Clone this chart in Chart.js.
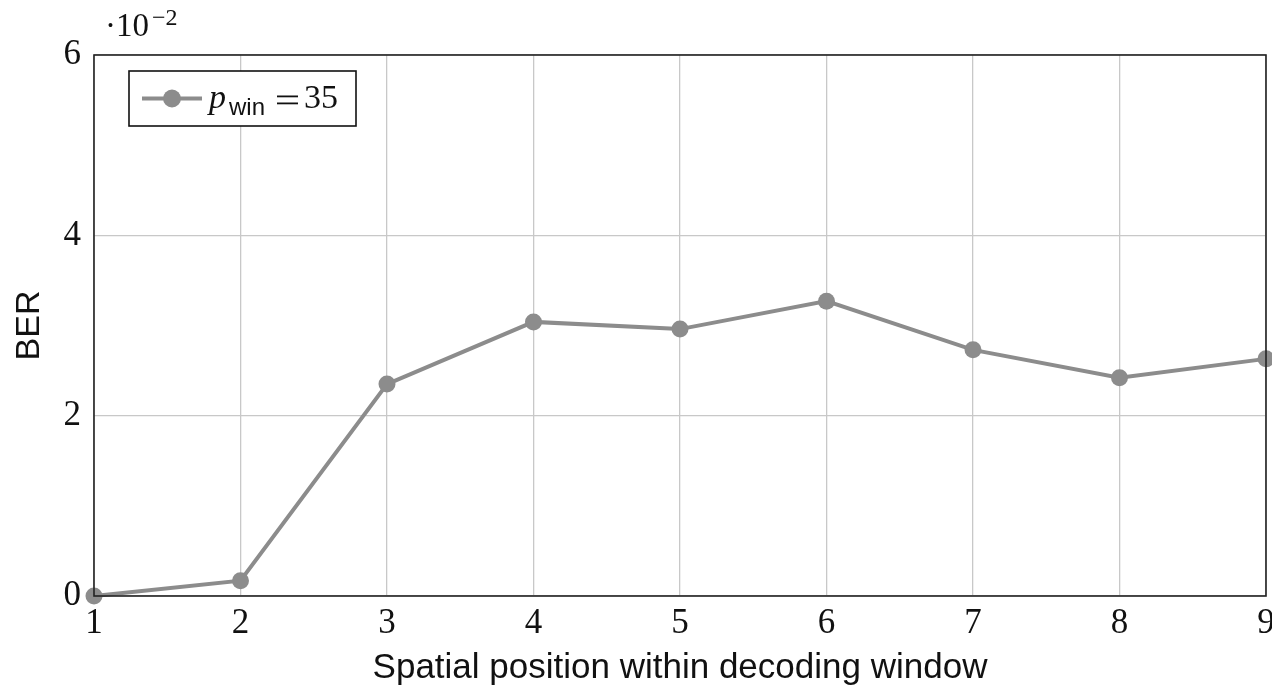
<!DOCTYPE html>
<html>
<head>
<meta charset="utf-8">
<script src="https://cdn.jsdelivr.net/npm/chart.js@4/dist/chart.umd.min.js"></script>
<style>
  html, body { margin: 0; padding: 0; background: #ffffff; }
  #wrap { width: 1272px; height: 692px; position: relative; }
</style>
</head>
<body>
<div id="wrap"><canvas id="chart" width="1272" height="692"></canvas></div>
<script>
// Spatial positions inside the decoding window
const positions = [1, 2, 3, 4, 5, 6, 7, 8, 9];
// Bit error rate at each position (p_win = 35)
const berValues = [0.0000, 0.0017, 0.0235, 0.0304, 0.0296, 0.0327, 0.0273, 0.0242, 0.0263];
// Y tick values and the common scale factor exponent
const yTicks = [0, 0.02, 0.04, 0.06];
const scaleExponent = -2;

const seriesName = { symbol: 'p', sub: 'win', rest: '35' };
const xTitle = 'Spatial position within decoding window';
const yTitle = 'BER';

const lineColor = '#8c8c8c';
const serif = '"Liberation Serif", "DejaVu Serif", serif';
const sans = '"Liberation Sans", Arial, sans-serif';

const points = positions.map((p, i) => ({ x: p, y: berValues[i] }));

// Frame, exponent marker and the legend box
const decorations = {
  id: 'decorations',
  afterDraw(chart) {
    const { ctx, chartArea: a } = chart;
    ctx.save();
    // full frame around the plot
    ctx.strokeStyle = '#222222';
    ctx.lineWidth = 1.6;
    ctx.strokeRect(a.left, a.top, a.right - a.left, a.bottom - a.top);

    // scale factor "·10^-2"
    ctx.fillStyle = '#111111';
    ctx.textBaseline = 'alphabetic';
    ctx.textAlign = 'left';
    ctx.font = '33px ' + serif;
    const base = '\u00b710';
    ctx.fillText(base, 105, 36);
    const w = ctx.measureText(base).width;
    ctx.font = '24px ' + serif;
    ctx.fillText('\u22122', 105 + w + 3, 25);

    // legend
    const lx = 129, ly = 71, lw = 227, lh = 55;
    ctx.fillStyle = '#ffffff';
    ctx.fillRect(lx, ly, lw, lh);
    ctx.strokeStyle = '#111111';
    ctx.lineWidth = 1.6;
    ctx.strokeRect(lx, ly, lw, lh);
    const cy = ly + lh / 2;
    ctx.strokeStyle = lineColor;
    ctx.lineWidth = 4;
    ctx.beginPath();
    ctx.moveTo(lx + 13, cy);
    ctx.lineTo(lx + 73, cy);
    ctx.stroke();
    ctx.fillStyle = lineColor;
    ctx.beginPath();
    ctx.arc(lx + 43, cy, 9, 0, Math.PI * 2);
    ctx.fill();

    ctx.fillStyle = '#111111';
    const baseY = cy + 9;
    ctx.font = 'italic 34px ' + serif;
    ctx.fillText(seriesName.symbol, 209, baseY);
    ctx.font = '24px ' + sans;
    ctx.fillText(seriesName.sub, 229, baseY + 7);
    // "=" drawn as two rules, then the value
    ctx.fillRect(277, cy - 3, 21, 1.8);
    ctx.fillRect(277, cy + 4, 21, 1.8);
    ctx.font = '34px ' + serif;
    ctx.fillText(seriesName.rest, 304, baseY);
    ctx.restore();
  }
};

new Chart(document.getElementById('chart'), {
  type: 'line',
  data: {
    datasets: [{
      label: 'p_win = 35',
      data: points,
      borderColor: lineColor,
      backgroundColor: lineColor,
      borderWidth: 4,
      pointRadius: 8.5,
      pointHoverRadius: 8.5,
      pointBackgroundColor: lineColor,
      pointBorderWidth: 0,
      tension: 0,
      clip: false
    }]
  },
  options: {
    responsive: false,
    animation: false,
    devicePixelRatio: 1,
    layout: { autoPadding: false, padding: { left: 0, right: 6, top: 55, bottom: 0 } },
    plugins: {
      legend: { display: false },
      tooltip: { enabled: false }
    },
    scales: {
      x: {
        type: 'linear',
        min: positions[0],
        max: positions[positions.length - 1],
        afterBuildTicks(scale) { scale.ticks = positions.map(v => ({ value: v })); },
        afterFit(scale) {
          scale.height = 96;
          scale.paddingLeft = 0;
          scale.paddingRight = 0;
        },
        grid: { color: '#c8c8c8', lineWidth: 1.3, drawTicks: false },
        border: { display: false },
        ticks: {
          color: '#111111',
          font: { family: serif, size: 35 },
          padding: 7,
          maxRotation: 0,
          callback: v => String(v)
        },
        title: {
          display: true,
          text: xTitle,
          color: '#111111',
          font: { family: sans, size: 35 },
          padding: { top: 0, bottom: 3 }
        }
      },
      y: {
        min: 0,
        max: yTicks[yTicks.length - 1],
        afterBuildTicks(scale) { scale.ticks = yTicks.map(v => ({ value: v })); },
        afterFit(scale) {
          scale.width = 94;
          scale.paddingTop = 0;
          scale.paddingBottom = 0;
        },
        grid: { color: '#c8c8c8', lineWidth: 1.3, drawTicks: false },
        border: { display: false },
        ticks: {
          color: '#111111',
          font: { family: serif, size: 35 },
          padding: 13,
          callback: v => String(Math.round(v * Math.pow(10, -scaleExponent)))
        },
        title: {
          display: true,
          text: yTitle,
          color: '#111111',
          font: { family: sans, size: 34 },
          padding: { top: 9, bottom: 0 }
        }
      }
    }
  },
  plugins: [decorations]
});
</script>
</body>
</html>
